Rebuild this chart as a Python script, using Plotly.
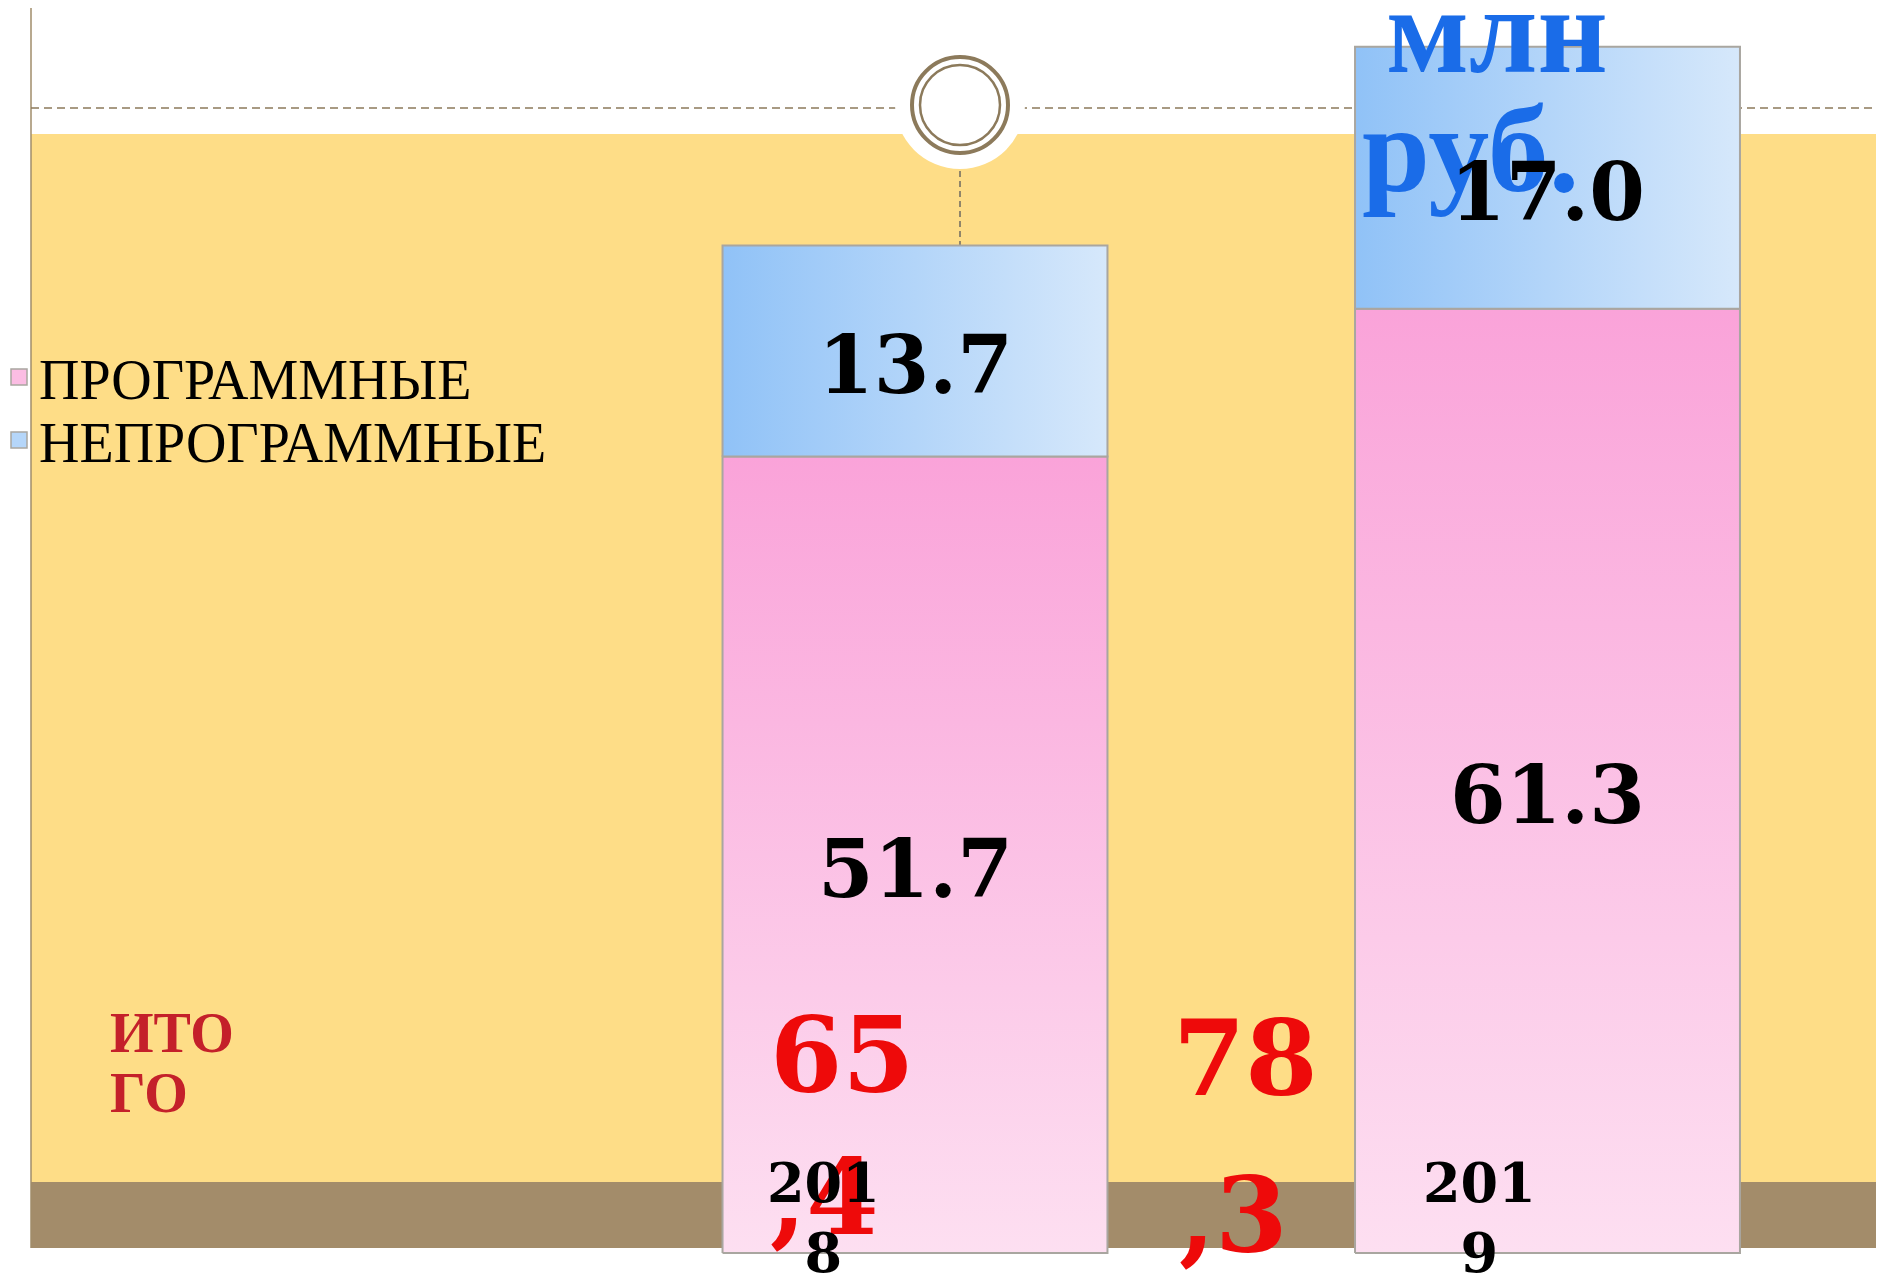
import plotly.graph_objects as go

# ---- data ----
categories = ["2018", "2019"]
programmnye = [51.7, 61.3]
neprogrammnye = [13.7, 17.0]
series_names = ["ПРОГРАММНЫЕ", "НЕПРОГРАММНЫЕ"]
unit_text = ["млн", "руб."]
total_title = ["ИТО", "ГО"]

# ---- canvas helpers (page pixel -> paper); page body has an 8px margin ----
W, H = 1884, 1281
OFF = 8
def px(x):
    return (x - OFF) / W
def py(y):
    return 1 - (y - OFF) / H

# axis calibration (page pixels): value 0 at y=1253, 15.405 px per unit;
# category 0 centred at x=915, 632.5 px per category step
Y0_PAGE, PPU_Y = 1253, 15.405
X0_PAGE, PPU_X = 915, 632.5
x_range = [(OFF - X0_PAGE) / PPU_X, (OFF + W - X0_PAGE) / PPU_X]
y_range = [(Y0_PAGE - (OFF + H)) / PPU_Y, (Y0_PAGE - OFF) / PPU_Y]

BAR_HALF = 0.3043
YELLOW = "#FEDD87"
BROWN = "#A38C6A"
RING = "#8C7A5B"
PINK = "#FBBDE3"
BLUE = "#B5D6F9"
EDGE = "#A9A6A0"
LABEL_XSHIFT = [-92, -68]

fig = go.Figure()

series = [
    (series_names[0], programmnye,
     dict(type="vertical", colorscale=[[0, "#FDDFF1"], [1, "#FAA3D9"]]), PINK),
    (series_names[1], neprogrammnye,
     dict(type="horizontal", colorscale=[[0, "#90C2F7"], [1, "#D6E8FB"]]), BLUE),
]

annotations = []
base = [0.0] * len(categories)
value_labels = []
for k, (name, vals, grad, solid) in enumerate(series):
    for i, v in enumerate(vals):
        x0, x1 = i - BAR_HALF, i + BAR_HALF
        y0, y1 = base[i], base[i] + v
        fig.add_trace(go.Scatter(
            x=[x0, x1, x1, x0, x0], y=[y0, y0, y1, y1, y0],
            fill="toself", fillcolor=solid, fillgradient=grad,
            mode="lines", line=dict(color=EDGE, width=2),
            name=name, legendgroup=name, showlegend=False,
            hoverinfo="skip"))
        value_labels.append(dict(
            x=i, y=(y0 + y1) / 2, xref="x", yref="y", text=f"{v:.1f}",
            showarrow=False, yshift=-14,
            font=dict(family="DejaVu Serif", size=80, color="#000000", weight="bold")))
        base[i] = y1
    # legend entry (square swatch), one legend box per series
    fig.add_trace(go.Scatter(
        x=[None], y=[None], mode="markers", name=name, legendgroup=name,
        marker=dict(symbol="square", size=16, color=solid, line=dict(color=EDGE, width=1.5)),
        legend="legend" if k == 0 else "legend2", showlegend=True))

totals = [a + b for a, b in zip(programmnye, neprogrammnye)]

# unit label (drawn first, under the value labels)
unit_pos = [(1497, 30), (1470, 149)]
for t, (ux, uy) in zip(unit_text, unit_pos):
    annotations.append(dict(
        x=px(ux), y=py(uy), xref="paper", yref="paper",
        text=t, showarrow=False, xanchor="center", yanchor="middle",
        font=dict(family="Liberation Serif", size=122, color="#1A6CE8", weight="bold")))

# "ИТОГО" title
title_pos = [(108, 1033), (108, 1093)]
for t, (tx, ty) in zip(total_title, title_pos):
    annotations.append(dict(
        x=px(tx), y=py(ty), xref="paper", yref="paper",
        text=t, showarrow=False, xanchor="left", yanchor="middle",
        font=dict(family="Liberation Serif", size=56, color="#C4202A", weight="bold")))

# totals, split the way the slide wraps them
total_pos = [((768, 1055), (768, 1197)), ((1171, 1058), (1177, 1215))]
for t, (p_whole, p_frac) in zip(totals, total_pos):
    whole, frac = f"{t:.1f}".replace(".", ",").split(",")
    for txt, (tx, ty) in ((whole, p_whole), ("," + frac, p_frac)):
        annotations.append(dict(
            x=px(tx), y=py(ty), xref="paper", yref="paper",
            text=txt, showarrow=False, xanchor="left", yanchor="middle",
            font=dict(family="DejaVu Serif", size=104, color="#EE0A0A", weight="bold")))

# category labels (wrapped like the original)
for i, c in enumerate(categories):
    annotations.append(dict(
        x=i, y=py(1218), xref="x", yref="paper", xshift=LABEL_XSHIFT[i],
        text=f"{c[:3]}<br>{c[3:]}", showarrow=False, xanchor="center", yanchor="middle",
        font=dict(family="DejaVu Serif", size=54, color="#000000", weight="bold")))

annotations.extend(value_labels)

shapes = [
    dict(type="rect", xref="paper", yref="paper", x0=px(31), x1=px(1920), y0=py(1182), y1=py(134),
         fillcolor=YELLOW, line=dict(width=0), layer="below"),
    dict(type="rect", xref="paper", yref="paper", x0=px(31), x1=px(1920), y0=py(1248), y1=py(1182),
         fillcolor=BROWN, line=dict(width=0), layer="below"),
    dict(type="line", xref="paper", yref="paper", x0=px(31), x1=px(31), y0=py(0), y1=py(1248),
         line=dict(color="#A08C6A", width=1.5), layer="below"),
    dict(type="line", xref="paper", yref="paper", x0=px(31), x1=px(1920), y0=py(108), y1=py(108),
         line=dict(color=RING, width=1.5, dash="8px,5px"), layer="below"),
    dict(type="circle", xref="paper", yref="paper", x0=px(960 - 65), x1=px(960 + 65),
         y0=py(104 + 65), y1=py(104 - 65), fillcolor="white", line=dict(width=0), layer="below"),
    dict(type="circle", xref="paper", yref="paper", x0=px(960 - 48), x1=px(960 + 48),
         y0=py(105 + 48), y1=py(105 - 48), line=dict(color=RING, width=4), layer="below"),
    dict(type="circle", xref="paper", yref="paper", x0=px(960 - 40), x1=px(960 + 40),
         y0=py(105 + 40), y1=py(105 - 40), line=dict(color=RING, width=2.5), layer="below"),
    dict(type="line", xref="paper", yref="paper", x0=px(960), x1=px(960), y0=py(171), y1=py(245),
         line=dict(color="#6E6A62", width=1.5, dash="6px,4px"), layer="below"),
]

legend_font = dict(family="Liberation Serif", size=56, color="#000000")
fig.update_layout(
    width=W, height=H, autosize=False,
    margin=dict(l=0, r=0, t=0, b=0, pad=0, autoexpand=False),
    paper_bgcolor="white", plot_bgcolor="rgba(0,0,0,0)",
    xaxis=dict(range=x_range, visible=False, fixedrange=True),
    yaxis=dict(range=y_range, visible=False, fixedrange=True),
    shapes=shapes, annotations=annotations,
    showlegend=True,
    legend=dict(x=0, y=py(377), xanchor="left", yanchor="middle", indentation=-9,
                bgcolor="rgba(0,0,0,0)", itemwidth=30, font=legend_font),
    legend2=dict(x=0, y=py(440), xanchor="left", yanchor="middle", indentation=-9,
                 bgcolor="rgba(0,0,0,0)", itemwidth=30, font=legend_font),
)

fig.write_html("out.html")
